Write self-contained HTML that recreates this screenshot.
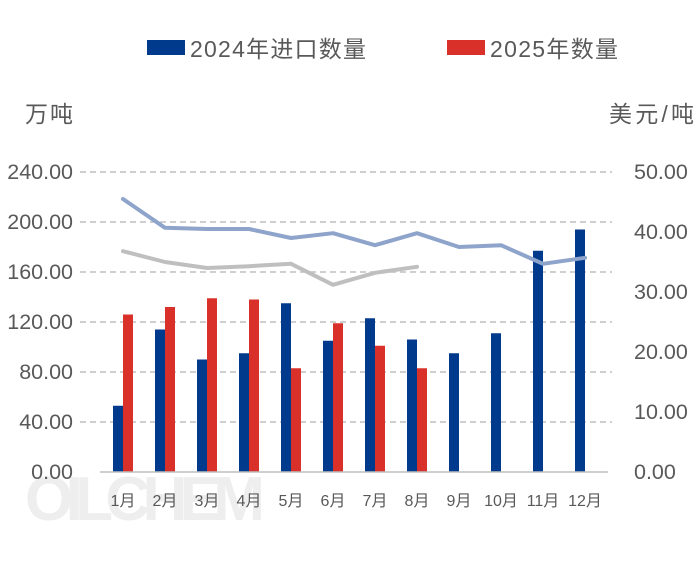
<!DOCTYPE html>
<html><head><meta charset="utf-8"><style>
body{margin:0;background:#fff;}
svg text{font-family:"Liberation Sans","Noto Sans CJK SC",sans-serif;}
</style></head><body>
<svg id="chart" width="700" height="566" viewBox="0 0 700 566" xmlns="http://www.w3.org/2000/svg">
<text x="25" y="520" font-size="62" font-weight="bold" fill="#eeeeee" textLength="240">OILCHEM</text>
<g id="grid"></g><g id="bars"></g><g id="lines"></g><g id="axes"></g>
<g>
<rect x="147" y="40" width="38" height="15" fill="#003A8C"/>
<text x="190" y="57" font-size="23" fill="#595959" textLength="176">2024年进口数量</text>
<rect x="447" y="40" width="38" height="15" fill="#D9312A"/>
<text x="490" y="57" font-size="23" fill="#595959" textLength="128">2025年数量</text>
</g>
<text x="25" y="122" font-size="23" fill="#595959" textLength="48">万吨</text>
<text x="609" y="122" font-size="23" fill="#595959" textLength="85">美元/吨</text>
</svg>
<script>
const categories=["1月","2月","3月","4月","5月","6月","7月","8月","9月","10月","11月","12月"];
const qty2024=[53,114,90,95,135,105,123,106,95,111,177,194];
const qty2025=[126,132,139,138,83,119,101,83];
const price2024=[45.5,40.7,40.5,40.5,39,39.8,37.8,39.8,37.5,37.8,34.7,35.7];
const price2025=[36.8,35,34,34.3,34.7,31.2,33.2,34.2];
const leftTicks=["0.00","40.00","80.00","120.00","160.00","200.00","240.00"];
const rightTicks=["0.00","10.00","20.00","30.00","40.00","50.00"];
const NS="http://www.w3.org/2000/svg";
const yL=v=>472-v*300/240, yR=v=>472-v*300/50, xC=i=>123+i*42;
function mk(t,a,p){const e=document.createElementNS(NS,t);for(const k in a)e.setAttribute(k,a[k]);document.getElementById(p).appendChild(e);return e;}
leftTicks.forEach((t,i)=>{const v=+t,y=yL(v);
 if(v>0){const g=mk("line",{x1:80,x2:612,y1:y,y2:y,stroke:"#bfbfbf","stroke-width":1.5,"stroke-dasharray":"6,4"},"grid");
 
 }
 const tx=mk("text",{x:73,y:y+7,"font-size":21.5,fill:"#595959","text-anchor":"end"},"axes");tx.textContent=t;
 
 });
rightTicks.forEach(t=>{const tx=mk("text",{x:634,y:yR(+t)+7,"font-size":21.5,fill:"#595959"},"axes");tx.textContent=t;
 
 });
const base=mk("line",{x1:100,x2:608,y1:472,y2:472,stroke:"#bfbfbf","stroke-width":1.5},"axes");


categories.forEach((c,i)=>{const tx=mk("text",{x:xC(i),y:506,"font-size":16,fill:"#595959","text-anchor":"middle"},"axes");tx.textContent=c;
 
 });
qty2024.forEach((v,i)=>{const r=mk("rect",{x:xC(i)-10,y:yL(v),width:10,height:472-yL(v),fill:"#003A8C"},"bars");
 
 });
qty2025.forEach((v,i)=>{const r=mk("rect",{x:xC(i),y:yL(v),width:10,height:472-yL(v),fill:"#D9312A"},"bars");
 
 });
const l1=mk("polyline",{points:price2024.map((v,i)=>xC(i)+","+yR(v)).join(" "),fill:"none",stroke:"#8EA4CB","stroke-width":4,"stroke-linejoin":"round","stroke-linecap":"round"},"lines");


const l2=mk("polyline",{points:price2025.map((v,i)=>xC(i)+","+yR(v)).join(" "),fill:"none",stroke:"#BFBFBF","stroke-width":4,"stroke-linejoin":"round","stroke-linecap":"round"},"lines");


</script>
</body></html>
